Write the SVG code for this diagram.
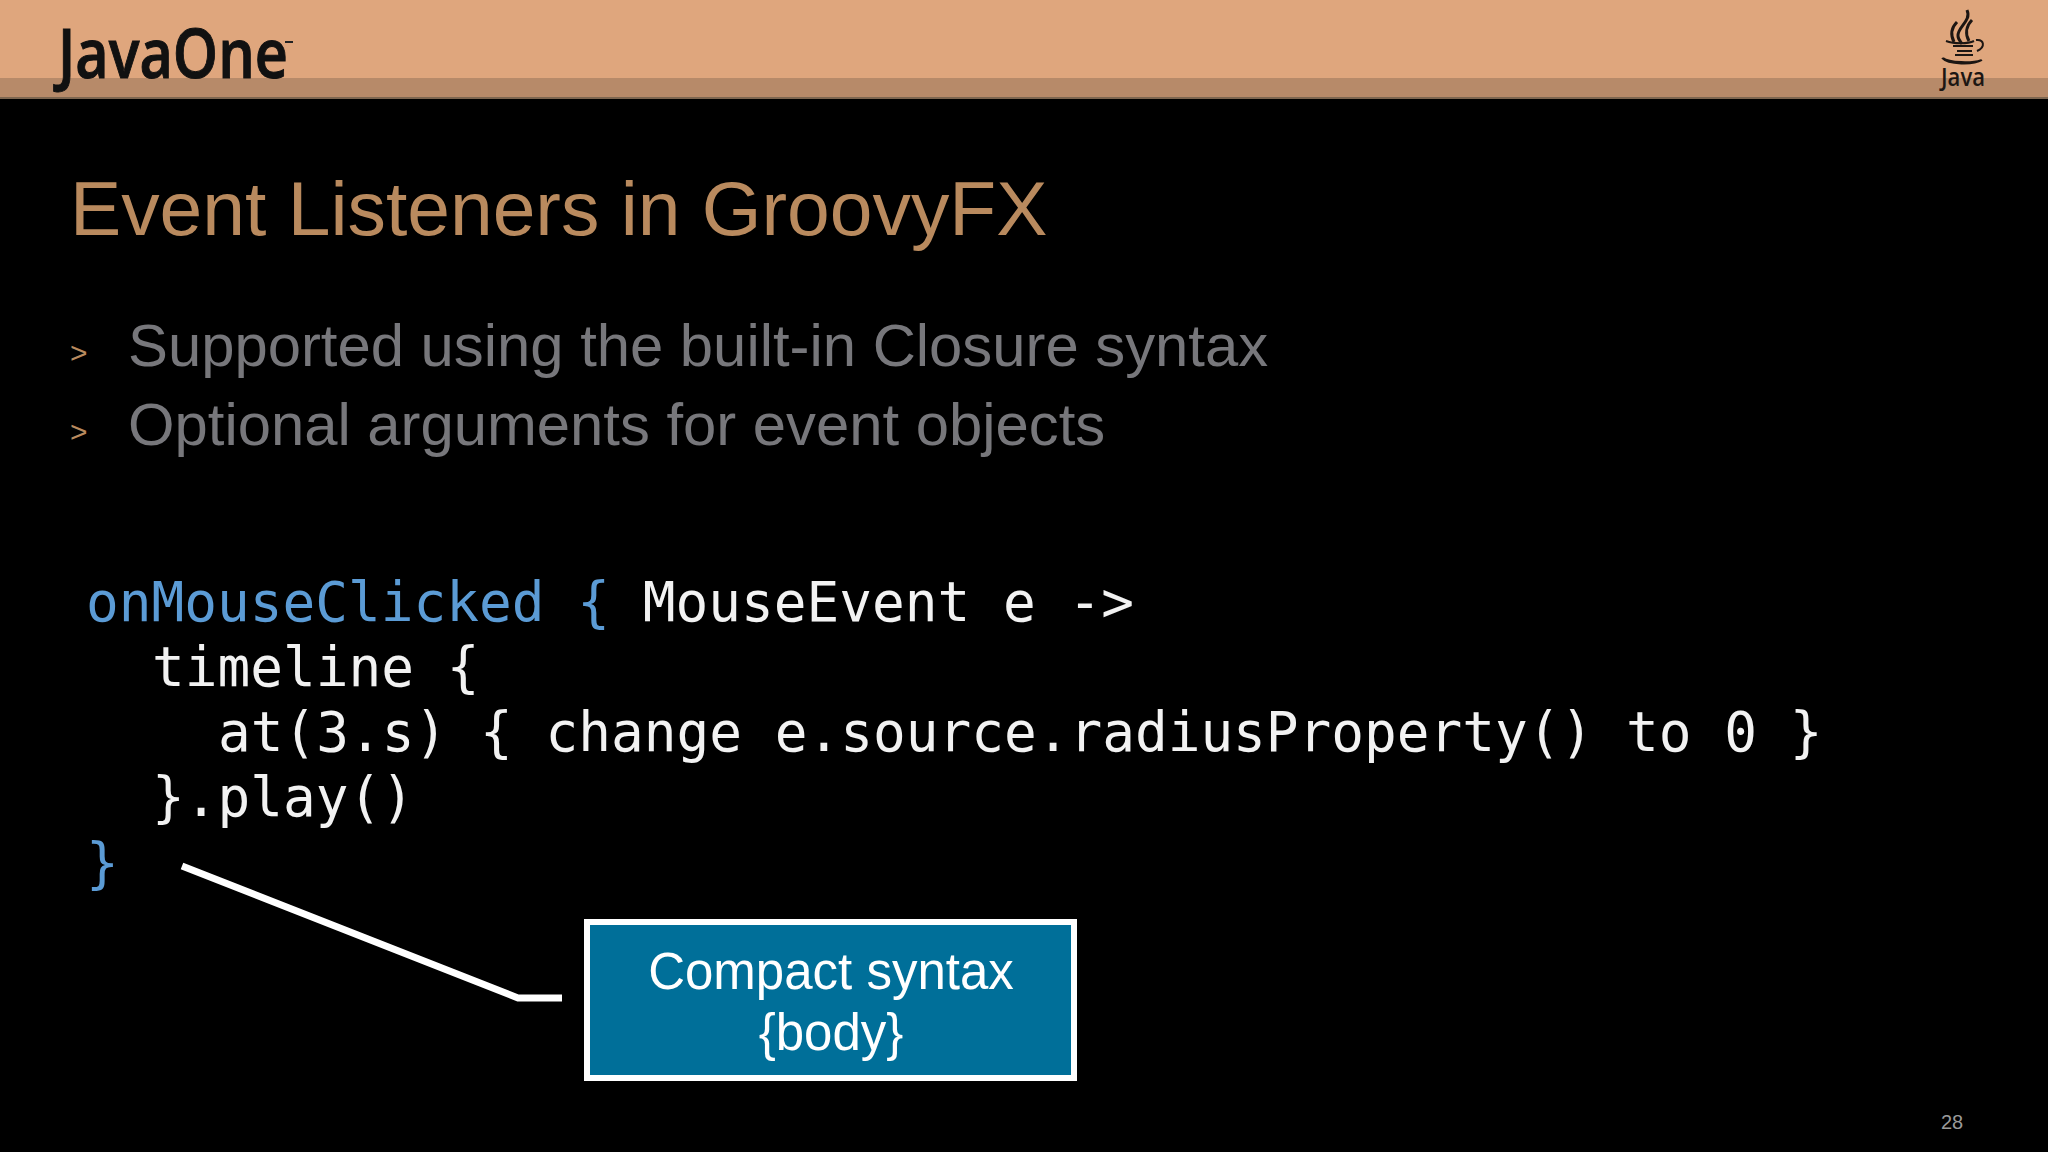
<svg xmlns="http://www.w3.org/2000/svg" width="2048" height="1152" viewBox="0 0 2048 1152">
<style>
.s{font-family:"Liberation Sans",Arial,sans-serif}
.o{font-family:"Open Sans","Noto Sans",sans-serif;font-weight:600}
.c{font-family:"DejaVu Sans Mono","Liberation Mono",monospace;font-size:54.4px;fill:#f2f2f2}
.b{fill:#5b9bd5}
.bl{font-family:"Liberation Sans",Arial,sans-serif;font-size:59.8px;fill:#77777b}
.ar{font-family:"Liberation Sans",Arial,sans-serif;font-size:30px;fill:#b98a5e}
</style>
<rect width="2048" height="1152" fill="#000"/>
<g id="header">
<rect width="2048" height="78" fill="#dfa67d"/>
<rect y="78" width="2048" height="20" fill="#b78a69"/>
<rect y="97" width="2048" height="2" fill="#7d6650"/>
<text id="javaone" class="o" x="58" y="78" font-size="68" fill="#111" stroke="#111" stroke-width="1" textLength="230" lengthAdjust="spacingAndGlyphs">JavaOne</text>
<rect x="285" y="41" width="8" height="2" fill="#222"/>
<g id="java-logo" fill="none" stroke="#1c1613">
<path d="M1967 10c5 11-10 17-9 26 0 3 2 5 4 8M1957 22c-6 6-7 12-3 20M1972 20c-6 6-7 14-3 21" stroke-width="3"/>
<path d="M1946 41c8 3 22 3 28 0M1976 40c8-1 10 7 1 11M1953 46h20M1957 51h15M1955 55h18" stroke-width="2"/>
<path d="M1943 58c6 5 30 5 38 2M1942 58c6 7 32 7 40 2" stroke-width="1.8"/>
<text x="1941" y="86" class="o" font-size="25" fill="#1c1613" stroke="none" textLength="44" lengthAdjust="spacingAndGlyphs">Java</text>
</g>
</g>
<text id="title" class="s" x="70" y="235" font-size="76.8" fill="#b98a5e">Event Listeners in GroovyFX</text>
<g id="bullets">
<text class="ar" x="70" y="363">&gt;</text>
<text class="bl" x="128" y="366">Supported using the built-in Closure syntax</text>
<text class="ar" x="70" y="442">&gt;</text>
<text class="bl" x="128" y="445">Optional arguments for event objects</text>
</g>
<g id="code" xml:space="preserve">
<text class="c" x="86" y="621"><tspan class="b">onMouseClicked {</tspan> MouseEvent e -&gt;</text>
<text class="c" x="152" y="686">timeline {</text>
<text class="c" x="218" y="751">at(3.s) { change e.source.radiusProperty() to 0 }</text>
<text class="c" x="152" y="816">}.play()</text>
<text class="c b" x="86" y="882">}</text>
</g>
<g id="connectors">
<path d="M182 866L518 998H562" fill="none" stroke="#fff" stroke-width="7"/>
</g>
<g id="callout">
<rect x="587" y="922" width="487" height="156" fill="#006f99" stroke="#fff" stroke-width="6"/>
<text class="s" x="831" y="989" font-size="51" fill="#fff" text-anchor="middle">Compact syntax</text>
<text class="s" x="831" y="1050" font-size="51" fill="#fff" text-anchor="middle">{body}</text>
</g>
<text id="page" class="s" x="1941" y="1129" font-size="20" fill="#9a9a9a">28</text>
</svg>
